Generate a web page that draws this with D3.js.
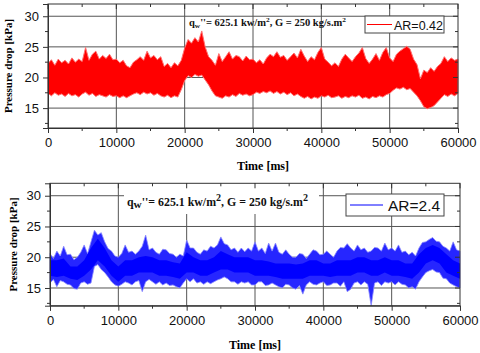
<!DOCTYPE html>
<html><head><meta charset="utf-8">
<script src="https://cdn.jsdelivr.net/npm/d3@7"></script>
<style>body{margin:0;background:#fff}svg{display:block}</style>
</head><body>
<svg id="c" width="480" height="353"></svg>
<script>
// ---- data (kPa) ----
const stepRed = 500; // ms between envelope samples
const redUpper = [22.3,22.9,22.0,23.0,22.4,22.8,22.2,23.2,22.5,23.0,22.6,24.9,22.8,23.8,24.3,23.0,23.6,23.1,23.8,22.9,
23.0,22.4,22.8,21.9,21.6,22.5,22.9,23.4,22.8,24.3,23.2,23.6,22.9,23.4,21.8,22.3,21.6,22.4,21.9,22.8,
24.8,26.2,25.6,26.5,25.8,27.6,25.0,23.4,22.8,22.0,23.9,22.6,23.4,24.2,23.0,23.6,23.4,22.7,23.5,22.9,
23.0,22.4,22.9,22.2,23.2,23.8,23.4,24.2,23.3,23.6,22.8,23.4,24.0,23.2,24.6,23.5,22.6,23.4,22.9,24.1,
24.9,23.0,22.5,21.9,22.4,21.8,23.0,23.8,23.2,22.6,23.4,24.0,24.9,23.1,22.3,23.0,23.9,22.8,24.1,24.9,
23.2,22.6,23.8,24.3,24.7,25.1,24.6,23.0,22.1,19.8,21.2,20.8,21.6,21.0,21.8,22.3,23.4,22.6,23.2,22.8,23.0];
const redLower = [17.4,17.0,17.5,17.1,17.3,16.9,17.4,17.0,17.2,16.8,17.3,17.6,17.1,17.4,16.9,17.2,17.0,16.8,17.2,16.9,
17.0,16.7,17.0,16.7,17.0,17.3,17.5,17.2,17.6,17.3,17.5,17.1,17.4,17.0,16.8,17.1,16.7,17.0,16.8,18.0,
19.5,20.3,20.0,20.5,20.2,20.4,19.6,18.8,17.8,17.0,16.8,16.6,17.0,16.8,17.2,16.9,17.4,17.1,17.3,17.0,
17.2,17.6,17.4,17.7,17.5,17.8,17.4,17.7,17.3,17.6,17.2,17.5,17.0,17.3,16.9,16.6,16.9,16.5,16.8,16.6,
17.0,16.8,17.1,16.7,16.8,17.0,16.6,16.9,16.7,17.0,16.8,17.1,16.6,16.8,16.5,16.9,16.7,17.0,16.8,17.2,
17.4,17.9,18.3,18.1,18.4,18.0,18.2,17.6,17.0,16.2,15.2,14.9,15.1,15.4,16.0,16.6,17.2,16.9,17.3,17.0,17.4];

const stepBlueOuter = 500;
const blueOuterUpper = [20.6,19.8,21.0,20.2,21.8,20.4,20.5,19.6,20.0,20.8,22.0,20.6,22.5,24.4,23.6,24.0,22.5,21.4,21.0,20.2,
20.0,20.6,22.0,20.8,21.0,20.5,21.0,21.8,23.6,21.2,21.5,20.8,20.5,21.3,21.2,20.6,20.5,20.0,20.5,20.2,
22.8,21.5,21.5,20.8,20.5,21.2,21.0,21.8,21.5,22.0,23.3,22.2,22.0,21.2,21.5,20.8,21.5,20.9,21.5,21.0,
22.5,21.0,21.5,20.6,22.3,21.0,22.3,20.8,20.5,21.2,20.5,20.0,20.0,20.6,20.5,19.8,20.5,21.2,21.0,20.4,
20.5,21.0,20.5,20.0,21.0,21.6,21.5,22.2,21.5,21.0,22.0,21.2,21.5,20.8,21.0,21.6,21.5,21.0,22.3,21.2,
21.5,21.0,22.0,20.8,21.0,20.4,20.8,20.2,21.5,22.4,22.5,22.9,23.2,22.6,22.5,21.8,21.5,21.0,22.5,21.2,21.0];
const blueOuterLower = [15.8,16.4,15.2,16.2,16.0,15.6,15.5,14.9,14.8,15.8,16.0,15.6,15.8,18.5,18.8,18.0,17.5,16.8,16.0,15.5,
15.3,15.6,16.0,15.8,15.5,16.0,16.2,14.4,16.0,16.4,16.0,15.6,16.0,15.5,15.8,15.4,15.5,15.2,15.0,15.8,
16.5,16.0,16.5,15.8,16.0,15.6,16.0,15.7,16.0,16.3,16.5,16.8,16.5,16.0,16.0,15.6,16.0,15.8,16.0,15.5,
15.5,16.0,16.0,15.4,15.5,15.8,15.5,15.2,15.0,15.6,15.5,15.0,14.8,15.4,14.0,15.5,16.0,15.6,15.5,15.8,
16.0,15.4,15.5,15.8,15.8,15.3,16.0,14.4,14.8,15.8,16.0,15.5,16.0,15.6,12.1,15.8,16.0,15.4,16.0,15.8,
16.0,15.5,16.0,15.6,15.5,15.0,15.2,14.8,16.0,16.8,17.5,17.8,18.0,17.6,17.5,16.6,16.5,15.8,15.5,15.2,15.0];

const stepBlueCore = 1000;
const blueCoreUpper = [19.5,19.5,19.8,18.5,18.5,19.5,21.5,23.0,21.5,19.5,18.5,19.5,19.5,20.0,20.2,20.0,19.5,19.5,19.2,19.0,
20.8,20.0,19.5,19.5,20.0,21.0,20.5,20.0,20.0,20.0,19.5,19.5,19.3,19.0,19.0,19.0,18.8,19.0,19.5,19.5,
19.0,19.0,19.5,19.5,19.5,20.0,20.0,19.5,19.5,20.0,19.5,19.5,19.0,19.0,20.5,21.5,22.0,21.5,20.5,19.5,19.0];
const blueCoreLower = [17.0,16.8,17.0,16.5,16.3,17.0,18.0,19.5,18.5,17.0,16.0,17.0,17.0,17.5,17.5,17.5,17.0,17.0,16.8,16.5,
17.5,17.5,17.0,17.0,17.5,18.0,18.0,17.5,17.5,17.5,17.0,17.0,17.0,16.8,16.5,16.5,16.5,16.5,17.0,17.0,
17.0,16.8,17.0,17.0,17.0,17.5,17.5,17.0,17.0,17.5,17.0,17.0,16.8,16.5,17.5,19.0,19.5,19.0,17.5,17.0,16.5];

const xTicks = [0,10000,20000,30000,40000,50000,60000];
const xMinor = [5000,15000,25000,35000,45000,55000];
const yTicks = [15,20,25,30];
const yMinor = [12.5,17.5,22.5,27.5];
const legendLabels = ["AR=0.42","AR=2.4"];
const noteParts = [["q",""],["w","sub"],["''= 625.1 kw/m",""],["2","sup"],[",  G = 250 kg/s.m",""],["2","sup"]];

// ---- drawing ----
const svg = d3.select("#c");
const panels = [
  {x0:48,x1:458,yT:4,yB:128,dom:[11.75,32],color:"#ff0000",
   noteX:189,noteY:26,noteSize:10,noteLen:157,
   leg:{x:365,y:16,w:79,h:17,lx1:367,lx2:392,ly:24.5,tx:394,ty:30,fs:12.5},
   yLabX:8,xLabY:170,tickY:150},
  {x0:50,x1:460,yT:183.3,yB:305.7,dom:[12.12,32.02],color:"#0000ff",
   noteX:127,noteY:206,noteSize:12,noteLen:181,
   leg:{x:346,y:194,w:98,h:22,lx1:350,lx2:383,ly:205,tx:388,ty:211,fs:15.5},
   yLabX:13,xLabY:349,tickY:326,whiteBox:[124,184,195,30]}
];

panels.forEach((p,i)=>{
  const g = svg.append("g");
  const x = d3.scaleLinear().domain([0,60000]).range([p.x0,p.x1]);
  const y = d3.scaleLinear().domain(p.dom).range([p.yB,p.yT]);
  const gridC = "#555";
  // grid
  g.append("g").selectAll("line").data(xTicks.slice(1,-1)).join("line")
    .attr("x1",d=>x(d)).attr("x2",d=>x(d)).attr("y1",p.yT).attr("y2",p.yB)
    .attr("stroke",gridC).attr("stroke-width",1);
  g.append("g").selectAll("line").data(yTicks).join("line")
    .attr("x1",p.x0).attr("x2",p.x1).attr("y1",d=>y(d)).attr("y2",d=>y(d))
    .attr("stroke",gridC).attr("stroke-width",1);

  // data
  if(i===0){
    const area = d3.area().x((d,k)=>x(k*stepRed)).y0((d,k)=>y(redLower[k])).y1(d=>y(d));
    g.append("path").datum(redUpper).attr("d",area).attr("fill",p.color)
      .attr("stroke","#ff7070").attr("stroke-width",1).attr("stroke-linejoin","miter");
  } else {
    const areaO = d3.area().x((d,k)=>x(k*stepBlueOuter)).y0((d,k)=>y(blueOuterLower[k])).y1(d=>y(d));
    g.append("path").datum(blueOuterUpper).attr("d",areaO).attr("fill","#2626ff")
      .attr("stroke","#8a8aff").attr("stroke-width",0.8);
    const areaC = d3.area().x((d,k)=>x(k*stepBlueCore)).y0((d,k)=>y(blueCoreLower[k])).y1(d=>y(d));
    g.append("path").datum(blueCoreUpper).attr("d",areaC).attr("fill",p.color);
  }

  if(p.whiteBox){
    const b=p.whiteBox;
    g.append("rect").attr("x",b[0]).attr("y",b[1]).attr("width",b[2]).attr("height",b[3]).attr("fill","#fff");
  }

  // frame
  g.append("rect").attr("x",p.x0).attr("y",p.yT).attr("width",p.x1-p.x0).attr("height",p.yB-p.yT)
    .attr("fill","none").attr("stroke","#333").attr("stroke-width",1);

  // axes
  const xa = g.append("g").attr("transform",`translate(0,${p.yB})`)
    .call(d3.axisBottom(x).tickValues(xTicks).tickFormat(d3.format("d")).tickSize(5).tickPadding(5));
  xa.append("g").selectAll("line").data(xMinor).join("line")
    .attr("x1",d=>x(d)).attr("x2",d=>x(d)).attr("y1",0).attr("y2",3).attr("stroke","#333");
  const ya = g.append("g").attr("transform",`translate(${p.x0},0)`)
    .call(d3.axisLeft(y).tickValues(yTicks).tickFormat(d3.format("d")).tickSize(5).tickPadding(4));
  ya.append("g").selectAll("line").data(yMinor.filter(v=>v>p.dom[0])).join("line")
    .attr("y1",d=>y(d)).attr("y2",d=>y(d)).attr("x1",0).attr("x2",-3).attr("stroke","#333");
  [xa,ya].forEach(a=>{
    a.select(".domain").attr("stroke","#333");
    a.selectAll(".tick line").attr("stroke","#333");
    a.selectAll("text").attr("font-family","Liberation Sans, Arial, sans-serif").attr("font-size",13).attr("fill","#111");
  });
  // right/top inward ticks
  g.append("g").selectAll("line").data(yTicks.concat(yMinor.filter(v=>v>p.dom[0]))).join("line")
    .attr("x1",p.x1).attr("x2",d=>p.x1-(yTicks.includes(d)?5:3)).attr("y1",d=>y(d)).attr("y2",d=>y(d)).attr("stroke","#333");
  g.append("g").selectAll("line").data(xTicks.concat(xMinor)).join("line")
    .attr("x1",d=>x(d)).attr("x2",d=>x(d)).attr("y1",p.yT).attr("y2",d=>p.yT+(xTicks.includes(d)?5:3)).attr("stroke","#333");

  // axis titles
  g.append("text").attr("transform",`translate(${p.yLabX},${(p.yT+p.yB)/2}) rotate(-90)`)
    .attr("text-anchor","middle").attr("dominant-baseline","central")
    .attr("font-family","Liberation Serif, Times New Roman, serif").attr("font-weight","bold").attr("font-size",11)
    .text("Pressure drop [kPa]");
  g.append("text").attr("x",(p.x0+p.x1)/2+ (i===0?10:0)).attr("y",p.xLabY).attr("text-anchor","middle")
    .attr("font-family","Liberation Serif, Times New Roman, serif").attr("font-weight","bold").attr("font-size",12)
    .text("Time [ms]");

  // annotation
  const t = g.append("text").attr("x",p.noteX).attr("y",p.noteY)
    .attr("font-family","Liberation Serif, Times New Roman, serif").attr("font-weight","bold").attr("font-size",p.noteSize)
    .attr("textLength",p.noteLen).attr("lengthAdjust","spacingAndGlyphs").attr("fill","#111");
  let shift=0;
  noteParts.forEach(([s,k])=>{
    const ts=t.append("tspan").text(s);
    const want = k==="sub"? p.noteSize*0.2 : k==="sup"? -p.noteSize*0.4 : 0;
    if(k==="sub") ts.attr("font-size",p.noteSize*(i===0?0.7:0.95));
    else if(k==="sup") ts.attr("font-size",p.noteSize*(i===0?0.7:0.85));
    ts.attr("dy",want-shift); shift=want;
  });

  // legend
  const L=p.leg;
  g.append("rect").attr("x",L.x).attr("y",L.y).attr("width",L.w).attr("height",L.h)
    .attr("fill","#fff").attr("stroke","#444").attr("stroke-width",1);
  g.append("line").attr("x1",L.lx1).attr("x2",L.lx2).attr("y1",L.ly).attr("y2",L.ly)
    .attr("stroke",p.color).attr("stroke-width",1);
  g.append("text").attr("x",L.tx).attr("y",L.ty).attr("font-family","Liberation Sans, Arial, sans-serif")
    .attr("font-size",L.fs).attr("fill","#111").text(legendLabels[i]);
});
</script>
</body></html>
